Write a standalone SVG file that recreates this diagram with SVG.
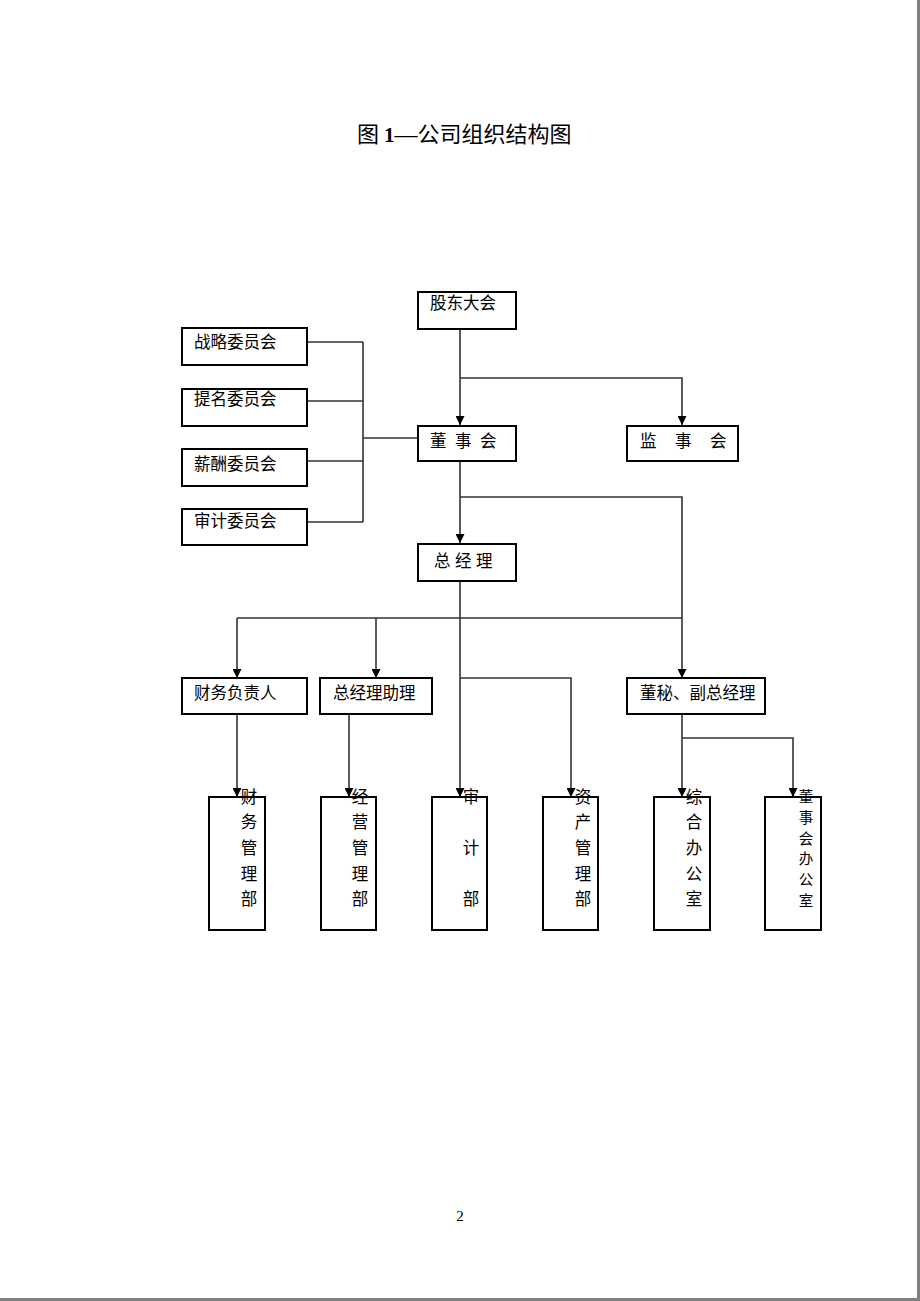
<svg xmlns="http://www.w3.org/2000/svg" width="920" height="1301" viewBox="0 0 920 1301">
<style>
.box{fill:#fff;stroke:#000;stroke-width:2}
.ln{fill:none;stroke:#333;stroke-width:1.6}
.arr{marker-end:url(#ah)}
.t{font-family:"Noto Sans CJK SC","Liberation Sans",sans-serif;font-size:16.5px;fill:#000}
.v{text-anchor:middle}
.s{font-size:14.5px}
</style>
<defs>
<marker id="ah" viewBox="0 0 10 10" refX="10" refY="5" markerWidth="10" markerHeight="9" markerUnits="userSpaceOnUse" orient="auto">
<path d="M0,0 L10,5 L0,10 z" fill="#000"/>
</marker>
</defs>
<rect x="0" y="0" width="920" height="1301" fill="#fff"/>
<rect x="917" y="0" width="3" height="1301" fill="#808080"/>
<rect x="0" y="1298" width="920" height="3" fill="#808080"/>
<text x="357" y="142" font-family="Liberation Serif,'Noto Sans CJK SC',serif" font-size="21" fill="#000"><tspan font-family="'Noto Sans CJK SC',sans-serif" font-size="22">图</tspan><tspan x="384" font-weight="bold">1</tspan><tspan font-size="23">—</tspan><tspan font-family="'Noto Sans CJK SC',sans-serif" font-size="22">公司组织结构图</tspan></text>
<text x="460" y="1221" font-family="Liberation Serif,serif" font-size="15" text-anchor="middle" fill="#000">2</text>
<g id="connectors">
<path class="ln arr" d="M460,329 V425"/>
<path class="ln arr" d="M460,378 H682 V425"/>
<path class="ln" d="M307,342 H363 M307,401 H363 M307,461 H363 M307,522 H363 M363,342 V522 M363,438 H418"/>
<path class="ln arr" d="M460,461 V543"/>
<path class="ln arr" d="M460,497 H682 V678"/>
<path class="ln arr" d="M460,581 V797"/>
<path class="ln" d="M237,618 H682"/>
<path class="ln arr" d="M237,618 V678"/>
<path class="ln arr" d="M376,618 V678"/>
<path class="ln arr" d="M460,678 H571 V797"/>
<path class="ln arr" d="M237,714 V797"/>
<path class="ln arr" d="M349,714 V797"/>
<path class="ln arr" d="M682,714 V797"/>
<path class="ln arr" d="M682,738 H793 V797"/>
</g>
<g id="n-gudong"><rect class="box" x="418" y="292" width="98" height="37"/><text class="t" x="430" y="309">股东大会</text></g>
<g id="n-zhanlue"><rect class="box" x="182" y="328" width="125" height="37"/><text class="t" x="194" y="348">战略委员会</text></g>
<g id="n-timing"><rect class="box" x="182" y="389" width="125" height="37"/><text class="t" x="194" y="405">提名委员会</text></g>
<g id="n-xinchou"><rect class="box" x="182" y="449" width="125" height="37"/><text class="t" x="194" y="470">薪酬委员会</text></g>
<g id="n-shenji-wyh"><rect class="box" x="182" y="509" width="125" height="36"/><text class="t" x="194" y="527">审计委员会</text></g>
<g id="n-dongshihui"><rect class="box" x="418" y="426" width="98" height="35"/><text class="t" y="447"><tspan x="430">董</tspan><tspan x="455">事</tspan><tspan x="480">会</tspan></text></g>
<g id="n-jianshihui"><rect class="box" x="627" y="426" width="111" height="35"/><text class="t" y="447"><tspan x="640">监</tspan><tspan x="675">事</tspan><tspan x="710">会</tspan></text></g>
<g id="n-zongjingli"><rect class="box" x="418" y="544" width="98" height="37"/><text class="t" y="567"><tspan x="434">总</tspan><tspan x="455">经</tspan><tspan x="476">理</tspan></text></g>
<g id="n-caiwufuzeren"><rect class="box" x="182" y="678" width="125" height="36"/><text class="t" x="194" y="699">财务负责人</text></g>
<g id="n-zhuli"><rect class="box" x="320" y="678" width="112" height="36"/><text class="t" x="333" y="699">总经理助理</text></g>
<g id="n-dongmi"><rect class="box" x="627" y="678" width="138" height="36"/><text class="t" x="640" y="699">董秘、副总经理</text></g>
<g id="n-caiwubu"><rect class="box" x="209" y="797" width="56" height="133"/><text class="t v"><tspan x="249" y="803">财</tspan><tspan x="249" y="828">务</tspan><tspan x="249" y="854">管</tspan><tspan x="249" y="880">理</tspan><tspan x="249" y="905">部</tspan></text></g>
<g id="n-jingyingbu"><rect class="box" x="321" y="797" width="55" height="133"/><text class="t v"><tspan x="360" y="803">经</tspan><tspan x="360" y="828">营</tspan><tspan x="360" y="854">管</tspan><tspan x="360" y="880">理</tspan><tspan x="360" y="905">部</tspan></text></g>
<g id="n-shenjibu"><rect class="box" x="432" y="797" width="55" height="133"/><text class="t v"><tspan x="471" y="803">审</tspan><tspan x="471" y="854">计</tspan><tspan x="471" y="905">部</tspan></text></g>
<g id="n-zichanbu"><rect class="box" x="543" y="797" width="55" height="133"/><text class="t v"><tspan x="583" y="803">资</tspan><tspan x="583" y="828">产</tspan><tspan x="583" y="854">管</tspan><tspan x="583" y="880">理</tspan><tspan x="583" y="905">部</tspan></text></g>
<g id="n-zonghe"><rect class="box" x="654" y="797" width="56" height="133"/><text class="t v"><tspan x="694" y="803">综</tspan><tspan x="694" y="828">合</tspan><tspan x="694" y="854">办</tspan><tspan x="694" y="880">公</tspan><tspan x="694" y="905">室</tspan></text></g>
<g id="n-dongban"><rect class="box" x="765" y="797" width="56" height="133"/><text class="t v s"><tspan x="806" y="802">董</tspan><tspan x="806" y="823">事</tspan><tspan x="806" y="844">会</tspan><tspan x="806" y="864">办</tspan><tspan x="806" y="885">公</tspan><tspan x="806" y="906">室</tspan></text></g>
</svg>
